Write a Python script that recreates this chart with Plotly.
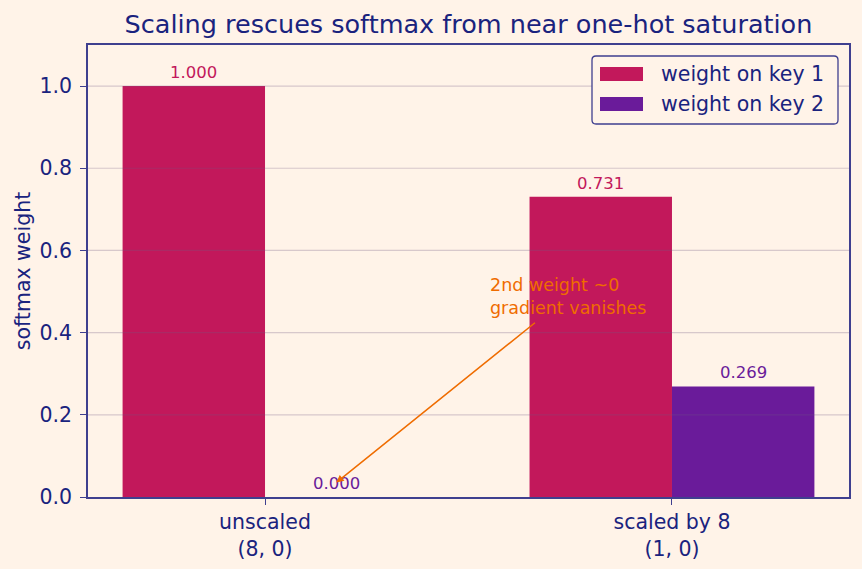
import plotly.graph_objects as go

categories = ["unscaled<br>(8, 0)", "scaled by 8<br>(1, 0)"]
key1_weights = [1.000, 0.731]
key2_weights = [0.000, 0.269]
series_names = ["weight on key 1", "weight on key 2"]
y_ticks = [0, 0.2, 0.4, 0.6, 0.8, 1.0]
y_ticklabels = ["0.0", "0.2", "0.4", "0.6", "0.8", "1.0"]

BG = "#FFF3E8"
NAVY = "#1A237E"
AXIS = "#3F3F8F"
C1 = "#C2185B"
C2 = "#6A1B9A"
ORANGE = "#EF6C00"
FONT = "DejaVu Sans"

W, H = 862, 569
L, R, T, B = 88, 13, 45, 72
PW, PH = W - L - R, H - T - B


def px_x(px):
    return (px - L) / PW


def px_y(py):
    return (H - B - py) / PH


def rounded_rect(x0, y0, x1, y1, r):
    # pixel coords -> paper path with rounded corners
    rx, ry = r / PW, r / PH
    a, b, c, d = px_x(x0), px_y(y1), px_x(x1), px_y(y0)  # left, bottom, right, top
    return (f"M {a+rx},{b} L {c-rx},{b} Q {c},{b} {c},{b+ry} L {c},{d-ry} "
            f"Q {c},{d} {c-rx},{d} L {a+rx},{d} Q {a},{d} {a},{d-ry} "
            f"L {a},{b+ry} Q {a},{b} {a+rx},{b} Z")


xpos = list(range(len(categories)))
half = 0.175
colors = [C1, C2]
series = [key1_weights, key2_weights]

fig = go.Figure()
for name, vals, col in zip(series_names, series, colors):
    fig.add_trace(go.Bar(x=xpos, y=vals, name=name, showlegend=False,
                         marker=dict(color=col, line=dict(width=0))))

annotations = []
shapes = []

# grid drawn above bars (faint), like the reference
for t in y_ticks[1:]:
    shapes.append(dict(type="line", xref="paper", yref="y", x0=0, x1=1, y0=t, y1=t,
                       line=dict(color="rgba(110,90,130,0.28)", width=1.2), layer="above"))

for k, (vals, col) in enumerate(zip(series, colors)):
    off = -half if k == 0 else half
    for i, v in enumerate(vals):
        annotations.append(dict(x=i + off, y=v, xref="x", yref="y", text=f"{v:.3f}",
                                showarrow=False, yanchor="middle", yshift=13.5,
                                font=dict(family=FONT, size=16.5, color=col)))

# arrow
annotations.append(dict(x=0 + half, y=0.035, ax=0.667, ay=0.427, xref="x", yref="y",
                        axref="x", ayref="y", text="", showarrow=True,
                        arrowhead=2, arrowsize=1.0, arrowwidth=1.5, arrowcolor=ORANGE))
annotations.append(dict(x=0.548, y=0.488, xref="x", yref="y",
                        text="2nd weight ~0<br>gradient vanishes", showarrow=False,
                        xanchor="left", yanchor="middle", align="left",
                        font=dict(family=FONT, size=17.5, color=ORANGE)))

# legend (drawn to match swatch geometry)
shapes.append(dict(type="path", xref="paper", yref="paper",
                   path=rounded_rect(592, 56, 838, 124, 4),
                   line=dict(color=AXIS, width=1.3), fillcolor=BG, layer="above"))
for k, (name, col) in enumerate(zip(series_names, colors)):
    cy = 74 + 30 * k
    shapes.append(dict(type="rect", xref="paper", yref="paper",
                       x0=px_x(600), x1=px_x(643), y0=px_y(cy + 7), y1=px_y(cy - 7),
                       line=dict(width=0), fillcolor=col, layer="above"))
    annotations.append(dict(x=px_x(659), y=px_y(cy), xref="paper", yref="paper",
                            text=name, showarrow=False, xanchor="left", yanchor="middle",
                            font=dict(family=FONT, size=20.5, color=NAVY)))

fig.update_layout(
    width=W, height=H,
    paper_bgcolor=BG, plot_bgcolor=BG,
    margin=dict(l=L, r=R, t=T, b=B, autoexpand=False),
    barmode="group", bargap=0.3, bargroupgap=0,
    font=dict(family=FONT, color=NAVY, size=20.5),
    title=dict(text="Scaling rescues softmax from near one-hot saturation",
               xref="paper", x=0.5, xanchor="center", y=1 - 24 / H, yanchor="middle",
               font=dict(family=FONT, size=25.5, color=NAVY)),
    showlegend=False,
    annotations=annotations,
    shapes=shapes,
)
fig.update_xaxes(range=[-0.435, 1.435], tickvals=xpos, ticktext=categories,
                 showline=True, linecolor=AXIS, linewidth=1.5, mirror=True,
                 ticks="outside", ticklen=6, tickcolor=AXIS, showgrid=False,
                 zeroline=False, automargin=False, tickfont=dict(size=20.5, color=NAVY))
fig.update_yaxes(range=[0, 1.1], tickvals=y_ticks, ticktext=y_ticklabels,
                 showline=True, linecolor=AXIS, linewidth=1.5, mirror=True,
                 ticks="outside", ticklen=6, tickcolor=AXIS, ticklabelstandoff=4,
                 showgrid=False, zeroline=False, automargin=False,
                 tickfont=dict(size=20.5, color=NAVY),
                 title=dict(text="softmax weight", standoff=3,
                            font=dict(family=FONT, size=20.5, color=NAVY)))

fig.write_html("out.html")
